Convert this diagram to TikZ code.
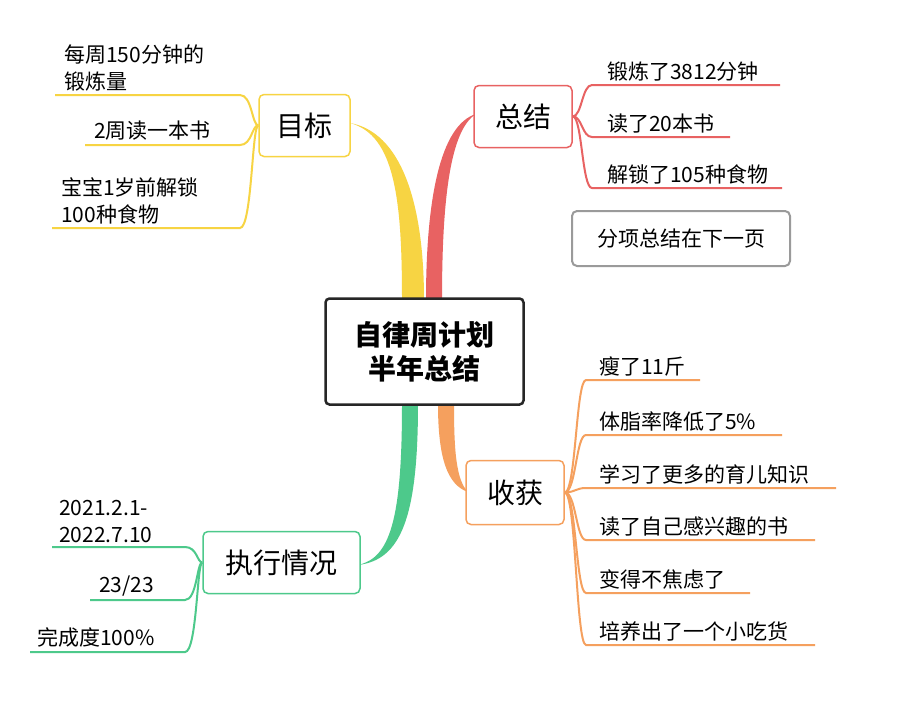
\documentclass[tikz,border=0pt]{standalone}
\usepackage{fontspec}
\setmainfont{Noto Sans CJK SC}
\definecolor{cy}{HTML}{F7D443}
\definecolor{cr}{HTML}{E86262}
\definecolor{co}{HTML}{F5A05E}
\definecolor{cg}{HTML}{4DC98B}
\definecolor{cgray}{HTML}{9A9A9A}
\begin{document}
\begin{tikzpicture}[x=1pt,y=-1pt,
  mainbox/.style={draw=black!85,line width=2.5pt,rounded corners=4pt,minimum width=198pt,minimum height=106pt,font=\fontsize{28}{34}\selectfont\bfseries,align=center,fill=white},
  topic/.style={draw=#1,line width=1.5pt,rounded corners=5pt,fill=white,font=\fontsize{28}{32}\selectfont,minimum height=62pt},
  leaf/.style={font=\fontsize{21}{27}\selectfont,anchor=south west,align=left,inner sep=3pt},
  ll/.style={line width=2pt,#1}]
\useasboundingbox (0,0) rectangle (907,715);
\fill[white] (0,0) rectangle (907,715);
% tapered branches
\fill[cy] (402,300) .. controls (402,200) and (395,135) .. (350,123) .. controls (400,132) and (424,200) .. (424,300) -- cycle;
\fill[cr] (426,300) .. controls (426,200) and (440,125) .. (476,114) .. controls (450,130) and (442,200) .. (442,300) -- cycle;
\fill[co] (438,404) .. controls (438,460) and (448,485) .. (468,492) .. controls (456,480) and (454,450) .. (454,404) -- cycle;
\fill[cg] (402,404) .. controls (402,520) and (390,558) .. (358,565) .. controls (400,560) and (418,520) .. (418,404) -- cycle;
\node[mainbox] (c) at (424.5,351.5) {自律周计划\\半年总结};
\node[topic=cy,minimum width=91pt] (mb) at (304.5,125.5) {目标};
\node[topic=cr,minimum width=98pt] (zj) at (523,116.5) {总结};
\node[topic=co,minimum width=98pt,minimum height=64pt] (sh) at (515,492.5) {收获};
\node[topic=cg,minimum width=157pt] (zx) at (281.5,562.5) {执行情况};
\node[draw=cgray,line width=2pt,rounded corners=5pt,font=\fontsize{21}{26}\selectfont,minimum width=218pt,minimum height=55pt] (fx) at (681,238.5) {分项总结在下一页};
% 目标 leaves
\foreach \n/\y/\x/\t in {a/95/55/{每周150分钟的\\锻炼量},b/145/85/{2周读一本书},c/228/52/{宝宝1岁前解锁\\100种食物}}{
  \coordinate (mb\n) at (240,\y);
  \draw[ll=cy] (\x,\y) -- (mb\n) .. controls (252,\y) and (252,125) .. (mb.west);
  \node[leaf] (t\n) at (\x+6,\y-1) {\t};
}
% 总结 leaves
\foreach \n/\y/\x/\t in {a/85/780/{锻炼了3812分钟},b/137/730/{读了20本书},c/188/782/{解锁了105种食物}}{
  \coordinate (zj\n) at (592,\y);
  \draw[ll=cr] (zj.east) .. controls (582,116) and (582,\y) .. (zj\n) -- (\x,\y);
  \node[leaf] (u\n) at (604,\y-1) {\t};
}
% 收获 leaves
\foreach \n/\y/\x/\t in {a/380/700/{瘦了11斤},b/435/782/{体脂率降低了5\%},c/488/836/{学习了更多的育儿知识},d/540/815/{读了自己感兴趣的书},e/593/750/{变得不焦虑了},f/645/815/{培养出了一个小吃货}}{
  \coordinate (sh\n) at (586,\y);
  \draw[ll=co] (sh.east) .. controls (576,492) and (576,\y) .. (sh\n) -- (\x,\y);
  \node[leaf] (v\n) at (596,\y-1) {\t};
}
% 执行情况 leaves
\foreach \n/\y/\x in {a/547/52,b/600/90,c/652/30}{
  \coordinate (zx\n) at (185,\y);
  \draw[ll=cg] (\x,\y) -- (zx\n) .. controls (197,\y) and (197,562) .. (zx.west);
}
\node[leaf] (wa) at (56,546) {2021.2.1-\\2022.7.10};
\node[leaf] (wb) at (96,599) {23/23};
\node[leaf] (wc) at (34,651) {完成度100\%};
\end{tikzpicture}
\end{document}
